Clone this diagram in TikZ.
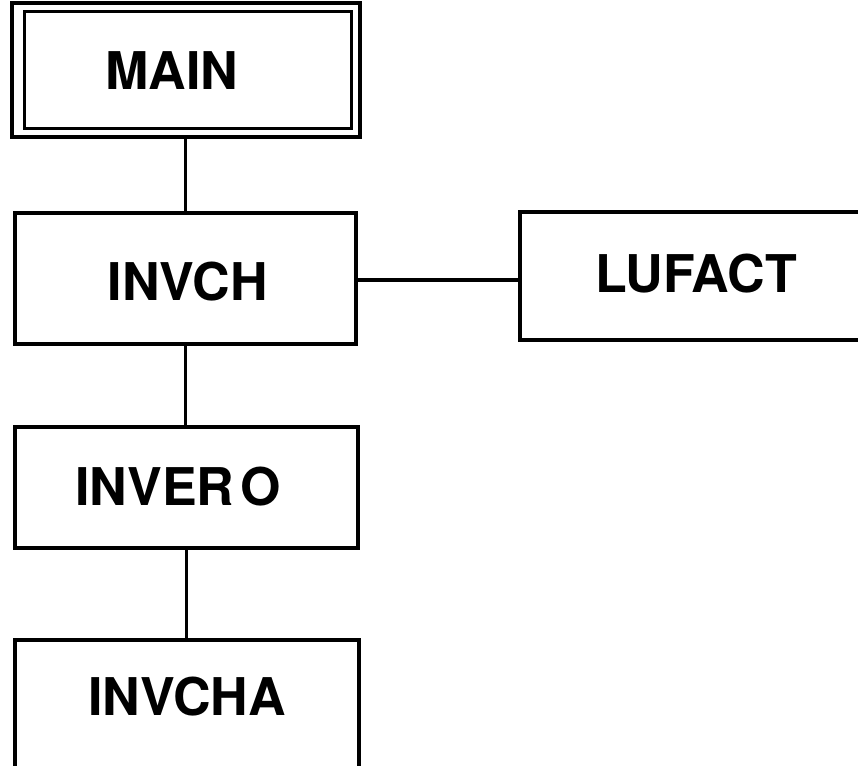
\documentclass[tikz,border=0pt]{standalone}
\usepackage{fontspec}
\setmainfont{TeX Gyre Heros}
\begin{document}
\begin{tikzpicture}[x=1pt,y=-1pt,
  box/.style={draw=black,line width=3.5pt,rectangle,inner sep=0pt},
  lbl/.style={font=\fontsize{52}{62}\selectfont\bfseries,text=black,inner sep=0pt,anchor=base},
  link/.style={draw=black,line width=3.5pt}]
\useasboundingbox[fill=white] (0,0) rectangle (858,765);
\node[box,minimum width=348pt,minimum height=134pt] (mainout) at (186,70) {};
\node[box,line width=3pt,minimum width=327pt,minimum height=116pt] (main) at (187.5,70) {};
\node[lbl] (tmain) at (172,90) {MAIN};
\node[box,minimum width=341pt,minimum height=131pt] (invch) at (185.5,278.5) {};
\node[lbl] (tinvch) at (188,300) {INVCH};
\node[box,minimum width=342pt,minimum height=128pt] (lufact) at (691,276) {};
\node[lbl] (tlufact) at (696,292) {LUFACT};
\node[box,minimum width=343pt,minimum height=121pt] (invero) at (186.5,487.5) {};
\node[lbl] (tinvero) at (178,505) {INVER\hspace{6pt}O};
\node[box,minimum width=344pt,minimum height=128pt] (invcha) at (187,704) {};
\node[lbl] (tinvcha) at (187,715) {INVCHA};
\draw[link] (invch.north) -- (invch.north |- mainout.south);
\draw[link] (invch.south) -- (invch.south |- invero.north);
\draw[link] (invero.south) -- (invero.south |- invcha.north);
\draw[link] ([yshift=-1.5pt]invch.east) -- ([yshift=-1.5pt]invch.east -| lufact.west);
\end{tikzpicture}
\end{document}
